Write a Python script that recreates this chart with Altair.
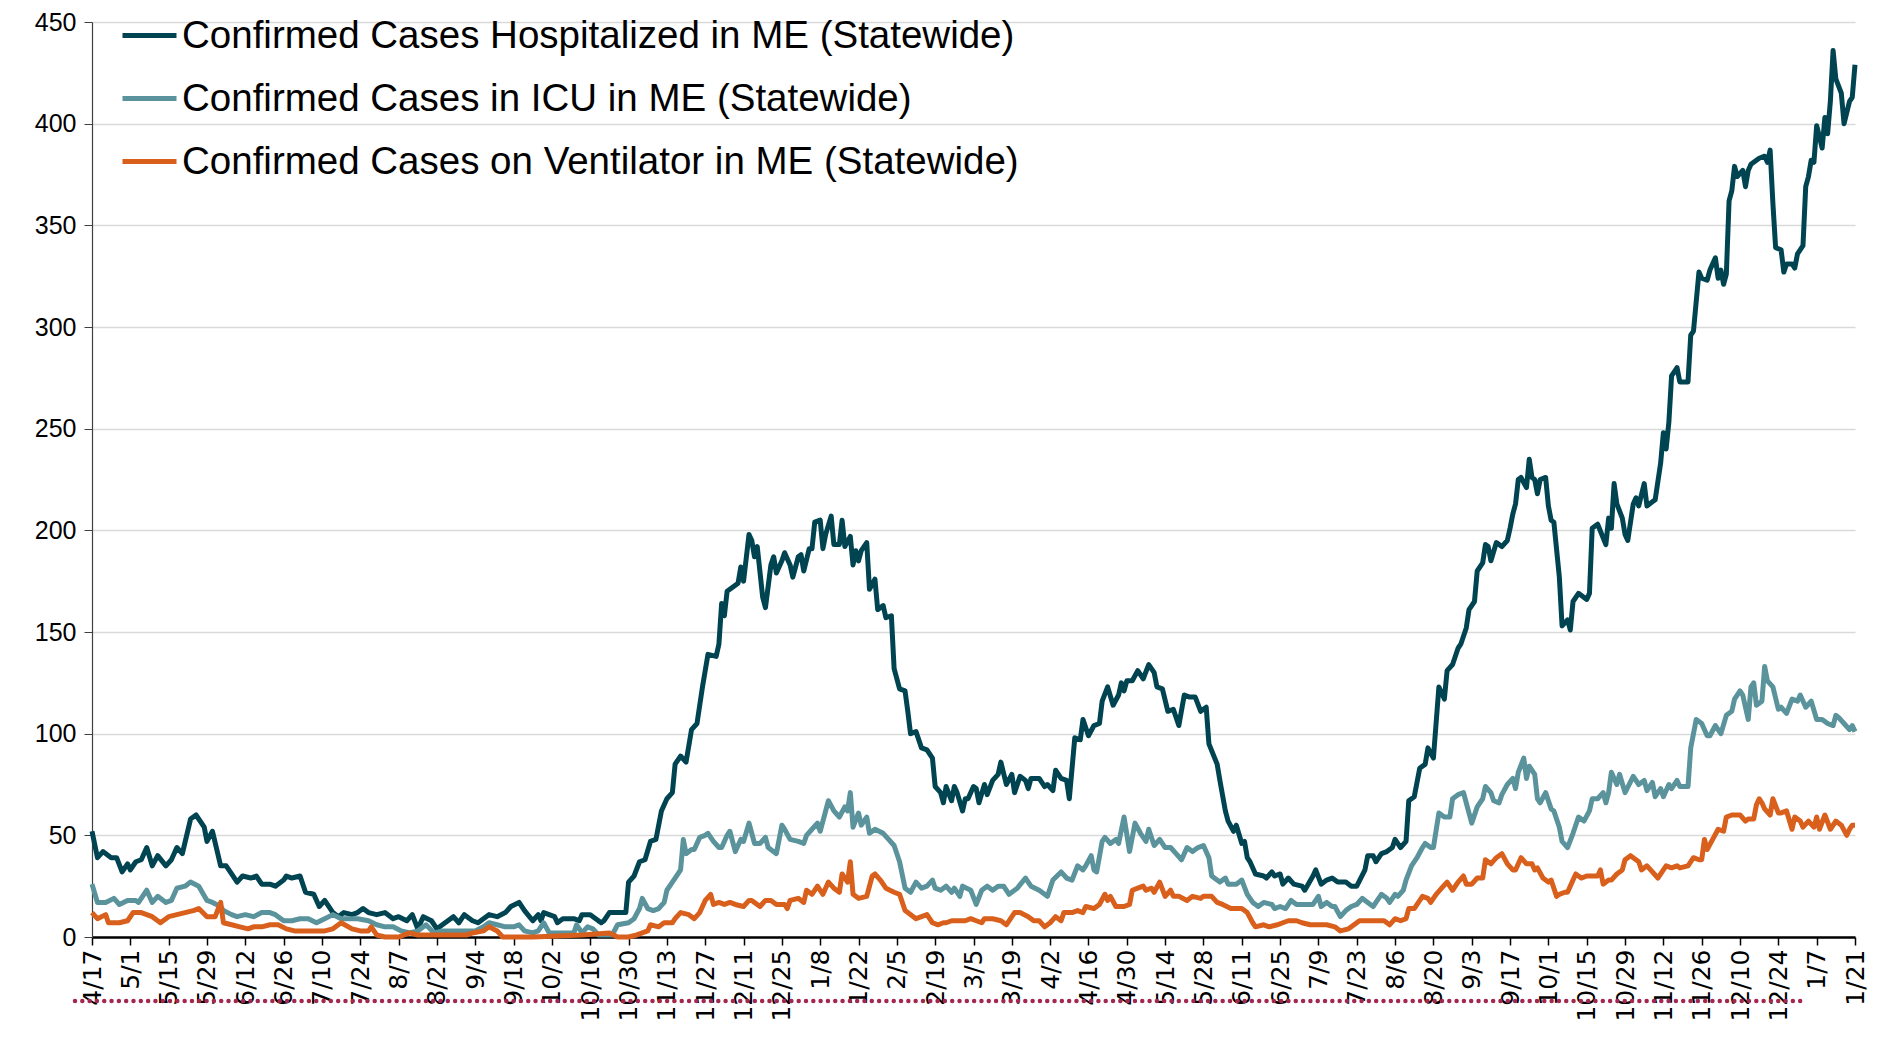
import altair as alt
import pandas as pd

START = "2020-04-17"

series_names = [
    "Confirmed Cases Hospitalized in ME (Statewide)",
    "Confirmed Cases in ICU in ME (Statewide)",
    "Confirmed Cases on Ventilator in ME (Statewide)",
]
series_colors = ["#004452", "#5a939b", "#d9601c"]

# days since 4/17/2020 and values
hosp_day = [0, 2, 4, 7, 9, 11, 13, 14, 16, 18, 20, 22, 24, 27, 29, 31, 33, 36, 38, 41, 42, 44, 47, 49, 51, 53, 55, 58, 60, 62, 65, 67, 70, 71, 73, 76, 78, 81, 83, 85, 88, 90, 92, 95, 97, 99, 101, 104, 107, 110, 112, 115, 117, 119, 121, 124, 126, 129, 132, 134, 136, 139, 141, 145, 148, 151, 153, 156, 158, 161, 163, 164, 165, 167, 169, 170, 172, 174, 176, 178, 179, 182, 184, 186, 187, 189, 192, 195, 196, 198, 200, 202, 204, 206, 208, 210, 212, 213, 215, 217, 219, 221, 223, 225, 228, 229, 230, 231, 232, 234, 236, 237, 238, 240, 241, 242, 243, 245, 246, 248, 249, 250, 252, 253, 255, 256, 258, 259, 260, 262, 263, 264, 266, 267, 268, 270, 271, 273, 274, 275, 277, 278, 279, 280, 281, 283, 284, 286, 287, 289, 290, 292, 293, 295, 297, 298, 299, 301, 303, 305, 307, 308, 310, 311, 312, 314, 315, 316, 318, 319, 320, 322, 323, 324, 326, 327, 329, 331, 332, 334, 336, 337, 339, 341, 342, 343, 345, 346, 348, 349, 351, 352, 354, 356, 357, 359, 361, 362, 364, 366, 368, 369, 371, 373, 375, 376, 377, 378, 380, 382, 384, 386, 388, 389, 391, 393, 395, 397, 399, 401, 403, 405, 407, 408, 411, 412, 414, 415, 417, 418, 420, 421, 422, 423, 425, 428, 429, 431, 432, 434, 435, 437, 439, 442, 443, 446, 447, 449, 451, 453, 455, 458, 460, 462, 465, 466, 468, 469, 471, 473, 475, 476, 478, 480, 481, 483, 485, 487, 488, 490, 492, 494, 495, 497, 499, 500, 502, 503, 504, 505, 506, 508, 509, 510, 511, 513, 515, 517, 518, 519, 520, 521, 522, 524, 525, 526, 527, 528, 529, 531, 532, 533, 534, 536, 537, 539, 540, 541, 543, 546, 547, 548, 550, 553, 554, 555, 556, 557, 559, 560, 561, 563, 564, 565, 567, 568, 570, 571, 573, 574, 575, 576, 577, 579, 580, 583, 584, 585, 587, 588, 590, 591, 593, 594, 595, 596, 597, 598, 599, 600, 601, 603, 604, 605, 606, 608, 609, 611, 612, 613, 614, 615, 617, 618, 619, 621, 622, 623, 625, 626, 627, 628, 629, 630, 632, 633, 634, 635, 636, 637, 639, 640, 642, 643, 644]
hosp_val = [52, 39, 42, 39, 39, 32, 36, 33, 37, 38, 44, 35, 40, 35, 38, 44, 41, 58, 60, 54, 47, 52, 35, 35, 31, 27, 30, 29, 30, 26, 26, 25, 28, 30, 29, 30, 22, 21, 15, 18, 12, 10, 12, 11, 12, 14, 12, 11, 12, 9, 10, 8, 11, 4, 10, 8, 4, 7, 10, 7, 11, 8, 7, 11, 10, 12, 15, 17, 13, 8, 11, 8, 12, 11, 10, 7, 9, 9, 9, 8, 11, 11, 9, 7, 8, 12, 12, 12, 27, 30, 37, 38, 47, 48, 62, 68, 71, 85, 89, 86, 102, 105, 123, 139, 138, 144, 164, 158, 170, 172, 174, 182, 175, 198, 195, 187, 192, 167, 162, 183, 187, 179, 185, 189, 183, 177, 187, 188, 180, 191, 191, 204, 205, 191, 198, 207, 193, 193, 205, 192, 197, 183, 190, 185, 190, 194, 171, 176, 161, 163, 157, 158, 132, 122, 121, 111, 100, 101, 93, 92, 88, 74, 71, 66, 74, 67, 74, 71, 62, 68, 68, 74, 73, 66, 75, 70, 77, 80, 86, 75, 80, 71, 79, 77, 73, 78, 78, 78, 74, 75, 72, 82, 78, 77, 68, 98, 97, 107, 99, 104, 105, 116, 123, 114, 119, 125, 121, 126, 126, 131, 127, 134, 130, 123, 122, 111, 112, 104, 119, 118, 118, 111, 113, 95, 85, 77, 62, 57, 52, 55, 46, 47, 39, 37, 31, 30, 29, 32, 30, 31, 26, 29, 26, 25, 23, 30, 33, 26, 28, 29, 27, 27, 25, 25, 33, 40, 40, 37, 41, 42, 44, 48, 44, 47, 67, 69, 83, 85, 93, 88, 123, 117, 131, 134, 142, 144, 152, 161, 163, 165, 180, 184, 193, 192, 185, 194, 192, 195, 201, 208, 213, 225, 226, 221, 235, 226, 225, 218, 225, 226, 212, 205, 204, 177, 153, 156, 151, 165, 169, 166, 169, 201, 203, 193, 206, 201, 223, 213, 206, 198, 195, 213, 216, 212, 223, 212, 214, 215, 233, 248, 240, 253, 276, 280, 273, 273, 296, 298, 327, 324, 323, 328, 334, 324, 328, 321, 326, 362, 367, 379, 374, 377, 369, 377, 380, 382, 383, 384, 381, 387, 361, 339, 338, 327, 331, 331, 329, 336, 340, 369, 374, 382, 381, 399, 388, 403, 395, 411, 436, 422, 415, 400, 411, 413, 429]

icu_day = [0, 2, 5, 8, 10, 13, 16, 17, 20, 22, 24, 27, 29, 31, 34, 36, 39, 42, 44, 47, 48, 51, 53, 56, 59, 62, 65, 67, 70, 73, 76, 79, 82, 85, 88, 91, 94, 97, 101, 104, 107, 110, 113, 116, 119, 122, 125, 128, 131, 134, 137, 140, 143, 145, 148, 151, 154, 156, 158, 161, 163, 165, 167, 170, 174, 176, 177, 179, 181, 183, 185, 187, 190, 192, 196, 198, 200, 201, 203, 205, 207, 209, 210, 212, 213, 215, 216, 217, 219, 220, 222, 224, 225, 227, 229, 230, 232, 233, 235, 237, 238, 240, 242, 244, 246, 247, 250, 252, 253, 255, 258, 260, 261, 263, 265, 266, 267, 269, 271, 273, 275, 276, 277, 278, 280, 281, 283, 284, 286, 289, 291, 293, 295, 297, 299, 301, 303, 305, 307, 308, 310, 312, 314, 315, 317, 318, 321, 323, 325, 327, 329, 331, 333, 335, 338, 341, 343, 346, 349, 351, 354, 356, 358, 360, 362, 363, 365, 366, 367, 369, 370, 372, 374, 375, 377, 379, 381, 383, 385, 386, 388, 390, 392, 394, 396, 398, 400, 402, 404, 406, 408, 409, 412, 414, 415, 418, 420, 422, 424, 426, 428, 431, 432, 434, 436, 438, 440, 443, 446, 448, 449, 451, 453, 454, 456, 458, 460, 462, 464, 465, 468, 469, 471, 473, 474, 476, 477, 479, 480, 482, 484, 486, 487, 489, 490, 492, 494, 496, 497, 499, 501, 502, 504, 506, 508, 509, 511, 512, 514, 515, 517, 519, 520, 521, 523, 524, 525, 527, 528, 529, 531, 533, 534, 536, 537, 539, 541, 543, 545, 547, 548, 550, 552, 553, 554, 555, 557, 558, 560, 563, 565, 567, 568, 570, 571, 573, 574, 576, 577, 579, 580, 583, 584, 586, 588, 590, 591, 593, 595, 597, 599, 600, 602, 603, 605, 606, 607, 608, 610, 611, 612, 614, 616, 617, 619, 621, 623, 624, 626, 628, 630, 632, 634, 636, 637, 638, 640, 642, 643, 644]
icu_val = [26, 17, 17, 19, 16, 18, 18, 17, 23, 17, 20, 17, 18, 24, 25, 27, 25, 18, 17, 15, 13, 11, 10, 11, 10, 12, 12, 11, 8, 8, 9, 9, 7, 9, 11, 9, 9, 9, 8, 6, 5, 5, 3, 2, 3, 6, 2, 3, 3, 3, 3, 3, 5, 7, 6, 5, 5, 6, 3, 2, 3, 7, 2, 2, 2, 2, 6, 2, 5, 4, 1, 1, 1, 6, 7, 9, 14, 19, 14, 13, 14, 17, 23, 27, 29, 33, 48, 41, 43, 43, 49, 50, 51, 47, 44, 44, 50, 52, 42, 48, 47, 56, 46, 46, 49, 44, 41, 55, 53, 48, 47, 46, 50, 53, 56, 52, 57, 67, 62, 59, 64, 62, 71, 54, 61, 55, 59, 51, 53, 51, 48, 45, 37, 24, 22, 27, 24, 25, 28, 24, 23, 25, 22, 24, 20, 25, 23, 16, 23, 25, 23, 25, 25, 21, 24, 29, 25, 23, 20, 28, 32, 29, 28, 35, 33, 35, 40, 33, 32, 47, 49, 46, 48, 46, 59, 42, 56, 51, 47, 53, 45, 48, 44, 44, 41, 38, 44, 42, 44, 45, 39, 30, 27, 29, 26, 26, 28, 21, 17, 15, 17, 16, 14, 15, 14, 18, 16, 16, 16, 20, 15, 17, 15, 15, 10, 13, 15, 16, 19, 18, 15, 17, 21, 19, 17, 21, 20, 23, 28, 35, 39, 44, 46, 44, 44, 61, 59, 59, 68, 70, 71, 66, 56, 64, 68, 74, 71, 67, 66, 70, 75, 78, 73, 81, 88, 78, 84, 80, 68, 66, 71, 63, 62, 54, 47, 44, 51, 59, 57, 62, 68, 68, 71, 66, 71, 81, 75, 80, 71, 79, 75, 77, 72, 76, 69, 73, 69, 75, 73, 77, 74, 74, 93, 107, 105, 99, 99, 104, 100, 109, 111, 117, 121, 119, 107, 123, 125, 114, 116, 133, 126, 123, 112, 113, 110, 117, 116, 119, 113, 116, 107, 107, 105, 104, 109, 108, 105, 102, 104, 101]

vent_day = [0, 2, 5, 6, 10, 13, 15, 18, 22, 25, 28, 31, 34, 37, 39, 42, 45, 47, 48, 51, 54, 57, 59, 62, 65, 68, 71, 74, 78, 81, 85, 88, 91, 95, 98, 101, 102, 104, 107, 112, 116, 119, 137, 139, 143, 145, 148, 150, 161, 179, 189, 192, 196, 199, 203, 204, 207, 209, 212, 213, 215, 218, 220, 222, 224, 226, 227, 229, 231, 233, 235, 238, 240, 241, 244, 246, 248, 250, 253, 254, 255, 258, 260, 261, 263, 265, 267, 269, 271, 273, 274, 276, 277, 278, 280, 283, 285, 286, 288, 290, 293, 295, 297, 298, 301, 303, 305, 307, 309, 311, 312, 314, 317, 319, 321, 323, 325, 326, 329, 332, 334, 337, 339, 342, 344, 346, 348, 350, 352, 354, 355, 358, 360, 362, 363, 366, 368, 370, 371, 372, 374, 377, 379, 380, 382, 384, 385, 387, 388, 390, 392, 394, 395, 397, 400, 402, 405, 406, 409, 411, 413, 416, 417, 420, 422, 424, 425, 428, 430, 433, 435, 437, 440, 442, 445, 448, 451, 454, 456, 459, 461, 463, 465, 468, 470, 472, 474, 476, 478, 480, 481, 483, 486, 488, 489, 491, 493, 495, 497, 499, 501, 502, 504, 506, 508, 509, 511, 513, 515, 517, 519, 520, 522, 524, 526, 527, 528, 530, 532, 533, 535, 536, 538, 539, 541, 542, 544, 546, 548, 550, 551, 552, 554, 555, 557, 559, 560, 562, 564, 565, 566, 568, 570, 572, 574, 575, 577, 579, 580, 583, 585, 587, 588, 589, 590, 592, 594, 596, 597, 599, 602, 604, 605, 607, 608, 609, 610, 611, 613, 614, 616, 617, 619, 621, 622, 624, 625, 627, 629, 630, 631, 633, 635, 637, 639, 641, 642, 643, 644]
vent_val = [12, 9, 11, 7, 7, 8, 12, 12, 10, 7, 10, 11, 12, 13, 14, 10, 10, 17, 7, 6, 5, 4, 5, 5, 6, 6, 4, 3, 3, 3, 3, 4, 7, 4, 3, 3, 5, 1, 0, 0, 2, 1, 1, 2, 3, 5, 3, 0, 0, 1, 2, 0, 0, 1, 3, 6, 5, 7, 7, 9, 12, 11, 9, 12, 18, 21, 16, 17, 16, 17, 16, 15, 18, 18, 15, 18, 18, 16, 16, 14, 18, 19, 17, 23, 21, 25, 21, 27, 24, 22, 31, 27, 37, 21, 19, 20, 30, 31, 28, 24, 22, 21, 13, 12, 9, 10, 11, 7, 6, 7, 7, 8, 8, 8, 9, 8, 7, 9, 9, 8, 6, 12, 12, 10, 8, 8, 5, 7, 10, 8, 12, 12, 13, 12, 15, 14, 16, 21, 18, 20, 15, 15, 16, 23, 24, 25, 23, 24, 22, 27, 20, 23, 20, 20, 18, 20, 19, 20, 20, 17, 16, 14, 14, 14, 12, 7, 5, 6, 5, 6, 7, 8, 8, 7, 6, 6, 6, 5, 3, 4, 6, 8, 8, 8, 8, 8, 6, 9, 8, 9, 14, 14, 20, 19, 17, 21, 24, 27, 23, 27, 30, 26, 26, 29, 29, 38, 36, 39, 41, 36, 33, 33, 39, 36, 36, 33, 34, 29, 27, 28, 20, 21, 22, 22, 28, 31, 29, 30, 30, 30, 33, 26, 28, 28, 31, 33, 38, 40, 38, 37, 33, 35, 32, 29, 33, 35, 34, 35, 34, 35, 39, 38, 38, 48, 43, 48, 53, 52, 59, 60, 60, 57, 58, 58, 65, 68, 66, 63, 60, 68, 61, 61, 62, 53, 59, 57, 54, 57, 54, 59, 53, 60, 53, 57, 55, 50, 53, 55, 55]

start = pd.Timestamp(START)
rows = []
for name, days, vals in [
    (series_names[0], hosp_day, hosp_val),
    (series_names[1], icu_day, icu_val),
    (series_names[2], vent_day, vent_val),
]:
    for d, v in zip(days, vals):
        rows.append({"date": (start + pd.Timedelta(days=d)).strftime("%Y-%m-%dT00:00:00"),
                     "value": v, "series": name})
df = pd.DataFrame(rows)

tick_dates = [d.strftime("%Y-%m-%dT00:00:00") for d in pd.date_range(START, "2022-01-21", freq="14D")]
y_ticks = list(range(0, 451, 50))

W, H = 1763, 915
LEFT, TOP = 84, 14

lines = alt.Chart(df).mark_line(strokeWidth=5, strokeJoin="round").encode(
    x=alt.X("date:T",
            scale=alt.Scale(domain=[tick_dates[0], tick_dates[-1]], nice=False),
            axis=alt.Axis(values=tick_dates, format="%-m/%-d", labelAngle=-90, title=None,
                          grid=False, tickSize=8, tickColor="#000000", tickWidth=1.5,
                          domainColor="#000000", domainWidth=2.5,
                          labelFont="DejaVu Sans", labelFontSize=25, labelColor="#000000",
                          labelPadding=4, labelOverlap=False, labelFlush=False)),
    y=alt.Y("value:Q",
            scale=alt.Scale(domain=[0, 450], nice=False),
            axis=alt.Axis(values=y_ticks, title=None, grid=True, gridColor="#d9d9d9",
                          gridWidth=1.5, tickSize=8, tickColor="#404040",
                          domainColor="#404040", domainWidth=1.2,
                          labelFont="Liberation Sans", labelFontSize=25,
                          labelColor="#000000", labelPadding=8)),
    color=alt.Color("series:N",
                    scale=alt.Scale(domain=series_names, range=series_colors),
                    legend=alt.Legend(title=None, orient="none", legendX=28, legendY=-16,
                                      symbolType="stroke", symbolSize=2916, symbolStrokeWidth=5,
                                      labelFont="Liberation Sans", labelFontSize=38.5,
                                      labelColor="#000000", labelLimit=1500, labelOffset=3,
                                      rowPadding=14, padding=0)),
    order=alt.Order("date:T"),
)

rule = alt.Chart(pd.DataFrame({"k": [0]})).mark_rule(
    color="#a3284f", strokeWidth=4.5, strokeDash=[0.01, 7.3], strokeCap="round", clip=False
).encode(x=alt.value(-17), x2=alt.value(1713), y=alt.value(979))

chart = alt.layer(lines, rule).properties(
    width=W, height=H,
    padding={"left": LEFT, "top": TOP, "right": 16, "bottom": 90},
    autosize=alt.AutoSizeParams(type="none"),
).configure_view(stroke=None)

chart.save("out.html", embed_options={"renderer": "svg", "actions": False})
